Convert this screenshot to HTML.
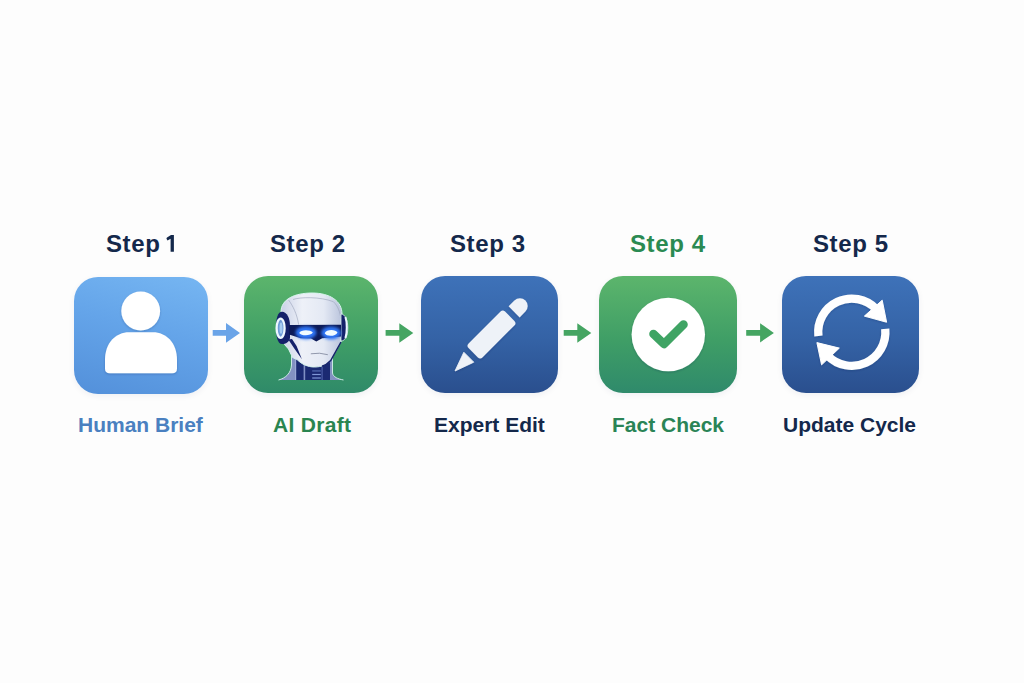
<!DOCTYPE html>
<html><head><meta charset="utf-8">
<style>
html,body{margin:0;padding:0;}
body{width:1024px;height:683px;background:#fdfdfd;position:relative;overflow:hidden;font-family:"Liberation Sans",sans-serif;}
.step{position:absolute;top:229px;font-weight:bold;font-size:24px;line-height:30px;letter-spacing:0.6px;color:#14284b;white-space:nowrap;}
.lab{position:absolute;top:410px;font-weight:bold;font-size:21px;line-height:30px;white-space:nowrap;}
.box{position:absolute;top:276px;height:117px;border-radius:24px;box-shadow:0 2px 6px rgba(20,40,80,0.06);overflow:hidden;}
.b1{left:74px;width:134px;top:277px;background:linear-gradient(195deg,#76b6f2 0%,#64a4e9 45%,#5390da 100%);}
.b2{left:244px;width:134px;background:linear-gradient(180deg,#5cb56c 0%,#3f9e66 55%,#2f8a69 100%);}
.b3{left:421px;width:137px;background:linear-gradient(180deg,#3e72b9 0%,#3462a5 55%,#2a4f8e 100%);}
.b4{left:599px;width:138px;background:linear-gradient(180deg,#5cb56c 0%,#3f9e66 55%,#2f8a6b 100%);}
.b5{left:782px;width:137px;background:linear-gradient(180deg,#3e72b9 0%,#3462a5 55%,#2a4f8e 100%);}
svg{position:absolute;left:0;top:0;}
</style></head>
<body>
<div class="step" style="left:106px">Step</div>
<svg width="1024" height="683" style="position:absolute;left:0;top:0"><path d="M170.6,251.7 L173.9,251.7 L173.9,235.1 L171,235.1 L167,237.5 Q166.2,238.1 166.6,239 L167.5,240.6 L170.6,238.7 Z" fill="#14284b"/></svg>
<div class="step" style="left:270px">Step 2</div>
<div class="step" style="left:450px">Step 3</div>
<div class="step" style="left:630px;color:#2a8a52">Step 4</div>
<div class="step" style="left:813px">Step 5</div>

<div class="box b1"></div>
<div class="box b2"></div>
<div class="box b3"></div>
<div class="box b4"></div>
<div class="box b5"></div>

<svg width="1024" height="683" viewBox="0 0 1024 683">
  <!-- arrows -->
  <g>
    <polygon fill="#6aa4e8" points="212.7,330 226,330 226,323 240,333 226,342.7 226,335.7 212.7,335.7"/>
    <polygon fill="#45a562" points="385.6,330 399.3,330 399.3,323.3 413.3,333 399.3,342.7 399.3,335.7 385.6,335.7"/>
    <polygon fill="#45a562" points="563.7,330 577.3,330 577.3,323.2 591.3,333 577.3,342.7 577.3,335.7 563.7,335.7"/>
    <polygon fill="#45a562" points="746.2,330 760.1,330 760.1,323.2 773.9,333 760.1,342.4 760.1,335.7 746.2,335.7"/>
  </g>
  <defs><filter id="ds" x="-20%" y="-20%" width="140%" height="140%"><feDropShadow dx="0" dy="1" stdDeviation="1" flood-color="#0a2050" flood-opacity="0.22"/></filter></defs>
  <!-- person -->
  <g fill="#ffffff" filter="url(#ds)">
    <circle cx="140.7" cy="311" r="19.4"/>
    <path d="M105,368.5 L105,360 C105,342.5 116,332.2 129,332.2 L153,332.2 C166,332.2 177,342.5 177,360 L177,368.5 Q177,373.3 172.2,373.3 L109.8,373.3 Q105,373.3 105,368.5 Z"/>
  </g>
  <!-- pencil -->
  <g fill="#eef2f8" filter="url(#ds)"><g transform="translate(455,371) rotate(-45)">
    <polygon points="0,0 19.5,-7 19.5,7" stroke="#eef2f8" stroke-width="0.8" stroke-linejoin="round"/>
    <rect x="25.8" y="-9.8" width="51.6" height="19.6" rx="3.2"/>
    <path d="M83.6,-7.8 L91.8,-7.8 A7.8,7.8 0 0 1 91.8,7.8 L83.6,7.8 Z"/>
  </g></g>
  <!-- check -->
  <circle cx="668.3" cy="334.5" r="36.7" fill="#ffffff" filter="url(#ds)"/>
  <polyline points="653.5,334 664,344 683.5,324.5" fill="none" stroke="#3fa464" stroke-width="8.6" stroke-linecap="round" stroke-linejoin="round"/>
  <!-- sync -->
  <g transform="translate(851.8,332.2)" filter="url(#ds)" fill="#ffffff">
    <path d="M-33.38,3.80 A33.6,33.6 0 0 1 24.17,-23.34" fill="none" stroke="#ffffff" stroke-width="8.3"/>
    <polygon points="30.4,-32.0 34.8,-10.0 12.6,-16.1" stroke="#ffffff" stroke-width="1" stroke-linejoin="round"/>
    <path d="M33.44,-3.28 A33.6,33.6 0 0 1 -24.17,23.34" fill="none" stroke="#ffffff" stroke-width="8.3"/>
    <polygon points="-30.2,32.6 -34.9,10.4 -12.5,15.9" stroke="#ffffff" stroke-width="1" stroke-linejoin="round"/>
  </g>
  <!-- robot -->
  <defs>
    <filter id="blur2" x="-50%" y="-50%" width="200%" height="200%"><feGaussianBlur stdDeviation="1.8"/></filter>
    <filter id="blur05" x="-50%" y="-50%" width="200%" height="200%"><feGaussianBlur stdDeviation="0.5"/></filter>
    <linearGradient id="silver" x1="0" y1="0" x2="1" y2="0">
      <stop offset="0" stop-color="#c9d1e6"/>
      <stop offset="0.35" stop-color="#eef1f8"/>
      <stop offset="0.7" stop-color="#e4e9f4"/>
      <stop offset="1" stop-color="#b9c3dc"/>
    </linearGradient>
    <radialGradient id="eyeglow" cx="0.5" cy="0.5" r="0.5">
      <stop offset="0" stop-color="#ffffff"/>
      <stop offset="0.45" stop-color="#cfe8ff"/>
      <stop offset="0.75" stop-color="#3f8cff" stop-opacity="0.9"/>
      <stop offset="1" stop-color="#2d6cf0" stop-opacity="0"/>
    </radialGradient>
    <linearGradient id="visor" x1="0" y1="0" x2="0" y2="1">
      <stop offset="0" stop-color="#0f1d5a"/>
      <stop offset="0.5" stop-color="#1a3bb0"/>
      <stop offset="1" stop-color="#0f1d5a"/>
    </linearGradient>
  </defs>
  <g>
    <path d="M278.5,380 C286,378 291,373 291.5,365 L291.5,356 L332.5,356 L332.5,373 C333,377 338,379 343.5,380 Z" fill="#8391c2"/>
    <path d="M278.5,380 C286,378 291,373 291.5,365 L291.5,356 M332.5,356 L332.5,373 C333,377 338,379 343.5,380" fill="none" stroke="#d6f3ea" stroke-width="0.9"/>
    <path d="M295,358 L330,358 L330,380 L295,380 Z" fill="#1b2a72"/>
    <rect x="295" y="358" width="1.2" height="22" fill="#9aa8d6"/>
    <rect x="303.6" y="362" width="1.6" height="18" fill="#8090c4"/>
    <rect x="321.5" y="362" width="1.2" height="18" fill="#4d60a8"/>
    <rect x="312.2" y="370.4" width="8.6" height="1.1" fill="#5a72b8"/>
    <rect x="312.2" y="373.9" width="8.6" height="1.2" fill="#7f97d6"/>
    <rect x="312.2" y="377.4" width="8.6" height="1.2" fill="#7f97d6"/>
    <path d="M281,312 C281,299 295,293 312,293 C330,293 342,301 342,314 L341,342 L330.7,360.6 C327,364.5 322,367 314.3,367 C308,367 302,364.5 297,359.5 L292.6,357.5 L288.5,349 L284.5,344.5 L281,337 Z" fill="url(#silver)" stroke="#d9f5ee" stroke-width="1"/>
    <path d="M288.6,300 C293,306 297,314 298.6,324.5" fill="none" stroke="#98a1b8" stroke-width="0.6"/>
    <path d="M293,299.5 C300,297 320,296.5 333.4,301.7 C338,306 340,312 341,319" fill="none" stroke="#98a1b8" stroke-width="0.6"/>
    <path d="M282,311.8 C287,312 290,318 290,326 L290,338 C289,342 286,344 282,344 C277.5,344 276,336 276,328 C276,319 277.5,311.8 282,311.8 Z" fill="#14216a"/>
    <ellipse cx="280.6" cy="328.2" rx="4" ry="9.6" fill="#6e9ad6" stroke="#eef8ff" stroke-width="2.3"/>
    <ellipse cx="281" cy="328.2" rx="1.5" ry="5.6" fill="#a6ccf2"/>
    <path d="M341,314 C345,314 347.8,320 347.8,328 C347.8,336 345,341 341,341 Z" fill="#14216a" stroke="#d9f5ee" stroke-width="0.8"/>
    <path d="M345.4,317 C347.2,322 347.2,333 345.4,338" fill="none" stroke="#eaf6ff" stroke-width="2"/>
    <path d="M289,325 L341,324.8 L341,336.6 L322.2,338.3 L316.3,341.5 L311,338.6 L300.7,338.3 L289,334.5 Z" fill="#0c1a58"/>
    <ellipse cx="306" cy="332.7" rx="10.5" ry="6.5" fill="#2f74f5" filter="url(#blur2)"/>
    <ellipse cx="331.1" cy="332.9" rx="10" ry="6.5" fill="#2f74f5" filter="url(#blur2)"/>
    <path d="M299.2,333 C300.5,329.4 310.5,329.4 312.8,332.6 C310.8,336.2 301.2,336.2 299.2,333 Z" fill="#f2fbff" filter="url(#blur05)"/>
    <path d="M324.7,333.3 C326.2,329 335.8,329 337.5,332.5 C335.8,336.8 326.2,336.8 324.7,333.3 Z" fill="#f2fbff" filter="url(#blur05)"/>
    <path d="M288.3,339.6 L292,339 L296.6,346 L301.9,359.3 L294.3,348.6 L291,343.6 Z" fill="#14216a"/>
    <path d="M341,342 L330.7,360.6 C328,363.5 325,365.5 322,366.3" fill="none" stroke="#14216a" stroke-width="1.5"/>
    <path d="M310.8,353.8 Q319.6,352.2 327.8,354.7" fill="none" stroke="#7a8298" stroke-width="0.8"/>
  </g>
</svg>

<div class="lab" style="left:78px;color:#4a80c0">Human Brief</div>
<div class="lab" style="left:273px;color:#2a8550;letter-spacing:0.3px">AI Draft</div>
<div class="lab" style="left:434px;color:#14284b">Expert Edit</div>
<div class="lab" style="left:612px;color:#2a8456">Fact Check</div>
<div class="lab" style="left:783px;color:#14284b">Update Cycle</div>
</body></html>
